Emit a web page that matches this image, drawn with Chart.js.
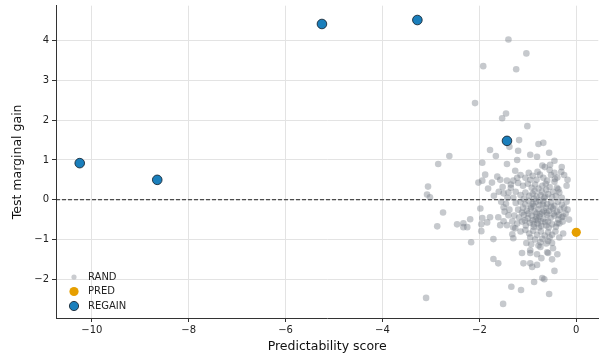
<!DOCTYPE html>
<html>
<head>
<meta charset="utf-8">
<script src="https://cdn.jsdelivr.net/npm/chart.js@4.4.1/dist/chart.umd.min.js"></script>
<style>
html, body { margin:0; padding:0; background:#fff; }
#wrap { width:604px; height:354px; }
</style>
</head>
<body>
<div id="wrap"><canvas id="scoreChart" width="604" height="354"></canvas></div>
<script>
// random baselines (gray cloud)
let randX = [
-1.40,-1.03,-1.92,-1.24,-2.09,-1.45,-1.53,
-1.01,-1.18,-0.78,-0.68,-1.78,-1.38,-1.66,-2.62,-2.85,-1.94,-1.43,-1.20,-1.22,-0.95,-0.81,-0.56,-0.45,-0.70,-0.54,-1.26,
-3.06,-3.02,-3.08,-1.88,-2.02,-1.94,-1.74,-1.63,-1.57,-1.43,-1.30,-1.82,-1.70,-1.50,-1.40,-0.31,-0.45,-0.39,-0.37,
-2.75,-2.87,-2.46,-2.33,-2.25,-2.33,-2.19,-2.17,-1.98,-1.94,-1.96,-1.96,-1.84,-1.78,-1.71,-1.71,-1.61,-1.61,-1.57,-1.50,-1.40,-1.43,-1.32,-1.30,-1.32,-1.26,-1.50,
-1.34,-1.14,-1.51,-3.10,-0.87,-0.56,-0.66,-0.70,-0.45,-0.81,-0.95,-0.91,-1.09,-0.50,-0.72,-0.39,-0.58,-0.81,-0.95,-1.12,
-1.03,-0.93,-0.95,-0.74,-0.74,-0.58,-0.50,-0.48,-0.60,-0.27,-0.39,
-1.15,-1.05,-0.98,-0.90,-0.82,-0.75,-0.68,-0.60,-0.52,-0.45,-1.20,-1.10,-1.00,-0.92,-0.85,-0.78,-0.70,-0.62,-0.55,-0.48,-0.40,
-1.25,-1.15,-1.05,-0.97,-0.90,-0.82,-0.74,-0.66,-0.58,-0.50,-0.42,-0.35,-1.30,-1.08,-0.86,-0.71,-0.63,-1.35,-0.95,-0.80,-0.55,-0.65,-1.22,-0.30,-0.44,
-1.25,-1.15,-1.05,-0.98,-0.90,-0.83,-0.76,-0.68,-0.60,-0.52,-0.45,-0.38,-0.30,
-1.20,-1.10,-1.02,-0.94,-0.86,-0.78,-0.70,-0.63,-0.56,-0.48,-0.40,-0.33,
-1.28,-1.18,-1.08,-1.00,-0.92,-0.84,-0.76,-0.68,-0.60,-0.53,-0.45,-0.37,-0.30,
-1.22,-1.12,-1.04,-0.96,-0.88,-0.80,-0.72,-0.64,-0.57,-0.50,-0.42,-0.35,
-1.15,-1.05,-0.97,-0.89,-0.81,-0.73,-0.65,-0.58,-0.50,-0.43,
-0.95,-0.85,-0.70,-0.62,-0.55,-0.78,-0.88,-0.72,-0.99,-0.67,-0.58,-0.82,-1.12,-0.47,-0.62,-0.77,-0.90,-1.06,-0.52,-0.36,-0.25,-0.28,-0.22,
-1.45,-1.38,-1.55,-1.48,-1.35,-1.42,-1.60,-1.52,-1.30,
-0.18,-0.20,-0.25,-0.30,-0.20,-0.15,-0.27,-0.35,-0.18,
-0.87,-0.76,-0.64,-0.93,-0.69,-0.82,-0.74,-0.61,-0.88,-0.79
]
let randY = [
4.03,3.68,3.36,3.28,2.43,2.17,2.05,
1.85,1.50,1.40,1.43,1.25,1.33,1.10,1.10,0.90,0.93,0.90,1.23,1.00,1.13,1.08,1.18,0.98,0.86,0.88,0.73,
0.33,0.06,0.13,0.63,0.43,0.48,0.43,0.58,0.50,0.48,0.48,0.28,0.10,0.16,0.18,0.70,0.68,0.56,0.26,
-0.32,-0.67,-0.62,-0.69,-0.69,-0.59,-0.49,-1.07,-0.22,-0.46,-0.62,-0.79,-0.57,-0.44,-0.99,-1.49,-1.60,-0.44,-0.64,-0.54,-0.39,-0.64,-0.87,-0.97,-0.54,-0.72,-0.19,
-2.19,-2.27,-2.62,-2.47,-2.07,-2.37,-2.00,-1.97,-1.79,-1.64,-1.60,-1.69,-1.60,-1.50,-1.47,-1.37,-1.34,-1.37,-1.34,-1.34,
-1.09,-1.12,-1.27,-1.07,-1.19,-1.04,-1.09,-1.22,-1.32,-0.42,-0.59,
0.62,0.55,0.68,0.60,0.50,0.63,0.55,0.48,0.62,0.45,0.42,0.35,0.40,0.30,0.38,0.28,0.35,0.25,0.32,0.20,0.30,
0.20,0.12,0.18,0.10,0.15,0.08,0.12,0.05,0.14,0.06,0.10,0.18,0.05,0.02,0.22,0.20,0.40,0.30,0.50,0.70,0.75,0.82,0.55,0.05,0.52,
-0.08,-0.05,-0.12,-0.03,-0.10,-0.06,-0.14,-0.04,-0.11,-0.07,-0.15,-0.05,-0.12,
-0.25,-0.20,-0.28,-0.22,-0.30,-0.24,-0.32,-0.20,-0.28,-0.22,-0.30,-0.25,
-0.40,-0.45,-0.38,-0.47,-0.40,-0.50,-0.42,-0.48,-0.38,-0.46,-0.40,-0.50,-0.44,
-0.60,-0.55,-0.65,-0.58,-0.68,-0.60,-0.66,-0.56,-0.70,-0.62,-0.68,-0.60,
-0.80,-0.76,-0.85,-0.78,-0.88,-0.80,-0.90,-0.82,-0.88,-0.80,
-0.95,-1.00,-0.98,-1.10,-0.95,-1.15,-0.15,-0.55,-0.35,-0.28,-0.55,-0.35,-0.32,-0.35,-0.65,-0.70,-0.52,-0.52,-0.18,-0.38,-0.20,-0.55,-0.35,
-0.10,-0.25,-0.05,-0.30,0.38,0.05,0.20,0.32,-0.70,
0.50,0.35,0.62,0.82,-0.05,-0.50,-0.85,-0.95,-0.25,
0.02,-0.02,0.08,-0.18,-0.12,-0.44,-0.36,-0.33,-0.62,-0.52
]

// predictor pick
let predX = [0.0]
let predY = [-0.82]

// regain picks
let regainX = [-10.25,-8.65,-5.25,-3.28,-1.43]
let regainY = [0.92,0.50,4.42,4.52,1.48]

let xTicks = [-10,-8,-6,-4,-2,0]
let yTicks = [-2,-1,0,1,2,3,4]

function toPoints(xs, ys){
    return xs.map((x,i) => ({x:x, y:ys[i]}))
}

function fmt(v){
    return v < 0 ? '\u2212' + Math.abs(v) : String(v)
}

const FONT = "'DejaVu Sans', sans-serif"

// dashed zero line + legend drawn in the plot corner
const extras = {
    id:'extras',
    beforeDatasetsDraw(chart){
        const ctx = chart.ctx
        const area = chart.chartArea
        const y0 = chart.scales.y.getPixelForValue(0)
        ctx.save()
        ctx.strokeStyle = '#222'
        ctx.lineWidth = 1
        ctx.setLineDash([4,2])
        ctx.beginPath()
        ctx.moveTo(area.left, y0)
        ctx.lineTo(area.right, y0)
        ctx.stroke()
        ctx.restore()
    },
    afterDraw(chart){
        const ctx = chart.ctx
        const items = [
            {label:'RAND', fill:'rgba(150,154,162,0.5)', r:2.6, edge:null},
            {label:'PRED', fill:'#E69F00', r:4.6, edge:null},
            {label:'REGAIN', fill:'#1a7fbc', r:4.6, edge:'#1b2a38'}
        ]
        ctx.save()
        ctx.font = '10px ' + FONT
        ctx.textBaseline = 'middle'
        items.forEach((it,i) => {
            const cy = 277 + i*14.5
            ctx.beginPath()
            ctx.arc(74, cy, it.r, 0, Math.PI*2)
            ctx.fillStyle = it.fill
            ctx.fill()
            if(it.edge){
                ctx.strokeStyle = it.edge
                ctx.lineWidth = 0.9
                ctx.stroke()
            }
            ctx.fillStyle = '#222'
            ctx.fillText(it.label, 88, cy)
        })
        ctx.restore()
    }
}

let scoreChart =
new Chart(
    document.getElementById("scoreChart"),
    {
        type:'scatter',
        data:{
            datasets:[
                {
                    label:'RAND',
                    data:toPoints(randX, randY),
                    backgroundColor:'rgba(120,126,136,0.42)',
                    borderWidth:0,
                    pointRadius:3.3,
                    order:3
                },
                {
                    label:'PRED',
                    data:toPoints(predX, predY),
                    backgroundColor:'#E69F00',
                    borderWidth:0,
                    pointRadius:4.6,
                    order:2
                },
                {
                    label:'REGAIN',
                    data:toPoints(regainX, regainY),
                    backgroundColor:'#1a7fbc',
                    borderColor:'#1b2a38',
                    borderWidth:0.9,
                    pointRadius:4.8,
                    order:1
                }
            ]
        },
        options:{
            responsive:false,
            animation:false,
            layout:{padding:{top:4, right:0, left:0, bottom:0}},
            plugins:{
                legend:{display:false},
                tooltip:{enabled:false}
            },
            scales:{
                x:{
                    type:'linear',
                    min:-10.74,
                    max:0.455,
                    afterBuildTicks(axis){
                        axis.ticks = xTicks.map(v => ({value:v}))
                    },
                    afterFit(axis){
                        axis.height = 36
                        axis.paddingLeft = 0
                        axis.paddingRight = 0
                    },
                    ticks:{
                        callback:v => fmt(v),
                        color:'#222',
                        font:{family:FONT, size:10},
                        padding:2,
                        maxRotation:0
                    },
                    grid:{
                        color:'#e3e3e3',
                        tickColor:'#333',
                        tickLength:4
                    },
                    border:{display:true, color:'#333', width:1},
                    title:{
                        display:true,
                        text:'Predictability score',
                        color:'#111',
                        font:{family:FONT, size:12.5},
                        padding:{top:0, bottom:0}
                    }
                },
                y:{
                    type:'linear',
                    min:-2.975,
                    max:4.88,
                    afterBuildTicks(axis){
                        axis.ticks = yTicks.map(v => ({value:v}))
                    },
                    afterFit(axis){
                        axis.width = 56
                        axis.paddingTop = 0
                        axis.paddingBottom = 0
                    },
                    ticks:{
                        callback:v => fmt(v),
                        color:'#222',
                        font:{family:FONT, size:10},
                        padding:3
                    },
                    grid:{
                        color:'#e3e3e3',
                        tickColor:'#333',
                        tickLength:4
                    },
                    border:{display:true, color:'#333', width:1},
                    title:{
                        display:true,
                        text:'Test marginal gain',
                        color:'#111',
                        font:{family:FONT, size:12.5},
                        padding:{top:10, bottom:4}
                    }
                }
            }
        },
        plugins:[extras]
    }
)
</script>
</body>
</html>
